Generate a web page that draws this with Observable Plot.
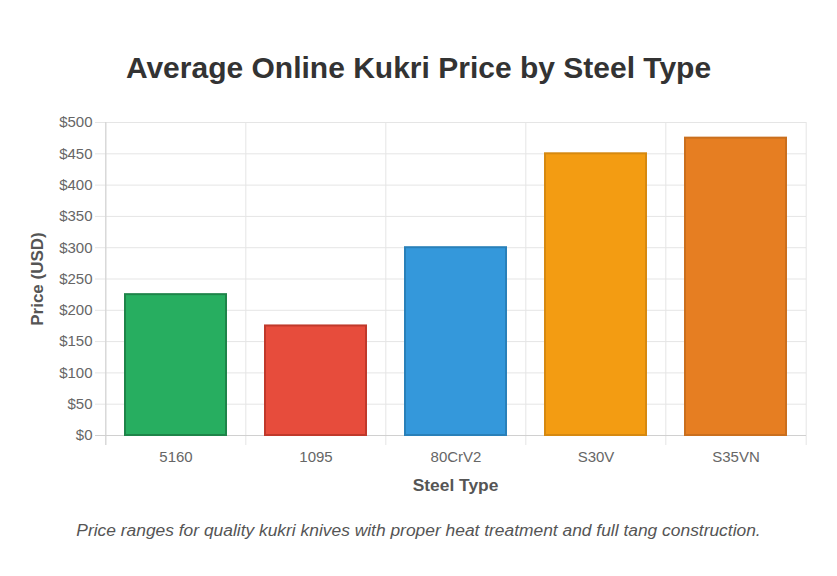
<!DOCTYPE html>
<html>
<head>
<meta charset="utf-8">
<script src="https://cdn.jsdelivr.net/npm/d3@7"></script>
<script src="https://cdn.jsdelivr.net/npm/@observablehq/plot@0.6"></script>
<style>
  html, body { margin: 0; padding: 0; background: #fff; }
  body { width: 837px; font-family: "Liberation Sans", Arial, Helvetica, sans-serif; }
  .title { box-sizing: border-box; height: 100px; padding-top: 50px; line-height: 36px;
           font-size: 30px; font-weight: bold; color: #333; text-align: center; }
  .caption { box-sizing: border-box; padding-top: 20px; line-height: 20px; font-size: 17.4px;
             font-style: italic; color: #555; text-align: center; }
  #chart svg { display: block; }
</style>
</head>
<body>
<div class="title">Average Online Kukri Price by Steel Type</div>
<div id="chart"></div>
<div class="caption">Price ranges for quality kukri knives with proper heat treatment and full tang construction.</div>
<script>
const categories = ["5160", "1095", "80CrV2", "S30V", "S35VN"];
const prices = [225, 175, 300, 450, 475];
const yTicks = [0, 50, 100, 150, 200, 250, 300, 350, 400, 450, 500];

// styles
const fillColors = ["#27ae60", "#e74c3c", "#3498db", "#f39c12", "#e67e22"];
const strokeColors = ["#1e8449", "#c0392b", "#2980b9", "#d68910", "#ca6f1e"];

const data = categories.map((c, i) => ({steel: c, price: prices[i]}));

const W = 837, H = 400, mL = 104, mR = 31, mT = 22, mB = 65;
const step = (W - mL - mR) / categories.length;

const plot = Plot.plot({
  width: W,
  height: H,
  marginLeft: mL,
  marginRight: mR,
  marginTop: mT,
  marginBottom: mB,
  style: {fontFamily: '"Liberation Sans", Arial, sans-serif', fontSize: "15px", background: "#fff"},
  x: {domain: categories, paddingInner: 0.28, paddingOuter: 0.14, label: null},
  y: {domain: [0, 500], label: null},
  color: {domain: categories, range: fillColors},
  marks: [
    Plot.ruleY(yTicks, {y: d => d, stroke: "#e5e5e5", strokeWidth: 1, insetLeft: -9}),
    Plot.ruleX(categories, {x: d => d, dx: -step / 2, stroke: "#e5e5e5", strokeWidth: 1, insetBottom: -10}),
    Plot.ruleX(categories.slice(-1), {x: d => d, dx: step / 2, stroke: "#e5e5e5", strokeWidth: 1, insetBottom: -10}),
    Plot.ruleX(categories.slice(0, 1), {x: d => d, dx: -step / 2, stroke: "#d0d0d0", strokeWidth: 1, insetBottom: -10}),
    Plot.ruleY([0], {stroke: "#d0d0d0", strokeWidth: 1, insetLeft: -9}),
    Plot.barY(data, {
      x: "steel", y: "price",
      fill: "steel",
      stroke: d => strokeColors[categories.indexOf(d.steel)],
      strokeWidth: 2
    }),
    Plot.axisY(yTicks, {tickSize: 0, tickPadding: 12, tickFormat: d => "$" + d, fill: "#666", fontSize: 15, label: null}),
    Plot.axisX({tickSize: 0, tickPadding: 16, fill: "#666", fontSize: 15, label: null}),
    Plot.text(["Price (USD)"], {frameAnchor: "left", dx: -67, rotate: -90, text: d => d,
      fontWeight: "bold", fontSize: 17, fill: "#555", textAnchor: "middle", lineAnchor: "middle"}),
    Plot.text(["Steel Type"], {frameAnchor: "bottom", dy: 50, text: d => d,
      fontWeight: "bold", fontSize: 17.4, fill: "#555", textAnchor: "middle", lineAnchor: "middle"})
  ]
});
document.getElementById("chart").appendChild(plot);
</script>
</body>
</html>
